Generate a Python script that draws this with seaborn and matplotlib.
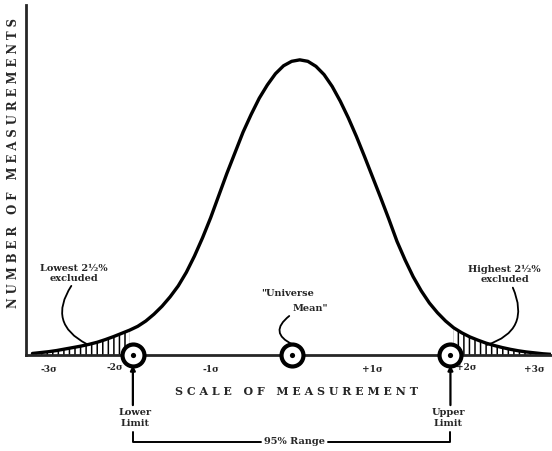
import numpy as np
import pandas as pd
import matplotlib
matplotlib.use("Agg")
import matplotlib.pyplot as plt
import seaborn as sns

# Curve (x in sigma units, height relative to the peak)
x_sigma = [-3.2, -3.1, -3.0, -2.9, -2.8, -2.7, -2.6, -2.5, -2.4, -2.3, -2.2, -2.1,
           -2.0, -1.9, -1.8, -1.7, -1.6, -1.5, -1.4, -1.3, -1.2, -1.1, -1.0, -0.9,
           -0.8, -0.7, -0.6, -0.5, -0.4, -0.3, -0.2, -0.1, 0.0, 0.1, 0.2, 0.3,
           0.4, 0.5, 0.6, 0.7, 0.8, 0.9, 1.0, 1.1, 1.2, 1.3, 1.4, 1.5,
           1.6, 1.7, 1.8, 1.9, 2.0, 2.1, 2.2, 2.3, 2.4, 2.5, 2.6, 2.7,
           2.8, 2.9, 3.0, 3.1, 3.2]
height = [0.005, 0.008, 0.011, 0.015, 0.020, 0.025, 0.030, 0.036, 0.043, 0.052, 0.062, 0.073,
          0.084, 0.097, 0.115, 0.138, 0.165, 0.197, 0.234, 0.280, 0.335, 0.397, 0.465, 0.540,
          0.615, 0.685, 0.755, 0.815, 0.870, 0.915, 0.953, 0.980, 0.995, 1.000, 0.995, 0.978,
          0.950, 0.910, 0.860, 0.803, 0.740, 0.672, 0.602, 0.532, 0.460, 0.385, 0.322, 0.265,
          0.217, 0.176, 0.143, 0.115, 0.092, 0.075, 0.061, 0.050, 0.040, 0.032, 0.025, 0.019,
          0.014, 0.010, 0.007, 0.004, 0.002]

# Marked points on the scale
limit_pos = [-1.96, 0.0, 1.96]
tick_pos = [-3, -1, 1, 3]
tick_labels = ['-3σ', '-1σ', '+1σ', '+3σ']

df = pd.DataFrame({'x': x_sigma, 'h': height})

sns.set_style("white")
plt.rcParams['font.family'] = ['DejaVu Serif']
plt.rcParams['hatch.linewidth'] = 1.1

fig = plt.figure(figsize=(5.52, 4.51), dpi=100)
ax = fig.add_axes([0.047, 0.213, 0.951, 0.776])

sns.lineplot(data=df, x='x', y='h', color='black', linewidth=2.4, ax=ax)

# hatched tails
left = df[df.x <= -2.0]
right = df[df.x >= 2.0]
ax.fill_between(left.x, left.h, 0, facecolor='white', edgecolor='black', hatch='|||', linewidth=0)
ax.fill_between(right.x, right.h, 0, facecolor='white', edgecolor='black', hatch='|||', linewidth=0)

ax.set_xlim(-3.28, 3.2)
ax.set_ylim(0, 1.186)
sns.despine(ax=ax)
for s in ['left', 'bottom']:
    ax.spines[s].set_linewidth(2)
ax.set_yticks([])
ax.set_xticks(tick_pos)
ax.set_xticklabels(tick_labels, fontsize=6.5, fontweight='bold')
ax.tick_params(axis='x', direction='out', length=5, width=2, pad=2)
ax.set_xlabel('')
ax.set_ylabel('')

# bullseye circles
sns.scatterplot(x=limit_pos, y=[0] * 3, s=250, color='white', edgecolor='black',
                linewidth=3, zorder=5, clip_on=False, ax=ax)
sns.scatterplot(x=limit_pos, y=[0] * 3, s=14, color='black', linewidth=0,
                zorder=6, clip_on=False, ax=ax)

bold = dict(fontweight='bold', fontsize=7)
ax.text(-2.18, -0.044, '-2σ', ha='center', va='center', fontsize=6.5, fontweight='bold')
ax.text(2.16, -0.044, '+2σ', ha='center', va='center', fontsize=6.5, fontweight='bold')

ax.text(0.06, -0.125, 'S C A L E   O F   M E A S U R E M E N T', ha='center', va='center',
        fontweight='bold', fontsize=7.9)
fig.text(0.025, 0.639, 'N U M B E R   O F   M E A S U R E M E N T S', rotation=90,
         ha='center', va='center', fontweight='bold', fontsize=8.4)

# limits, arrows and the range bracket
ax.text(-1.93, -0.214, 'Lower\nLimit', ha='center', va='center', linespacing=1.3, **bold)
ax.text(1.93, -0.214, 'Upper\nLimit', ha='center', va='center', linespacing=1.3, **bold)
for xl in [-1.96, 1.96]:
    ax.annotate('', xy=(xl, -0.035), xytext=(xl, -0.17), annotation_clip=False,
                arrowprops=dict(arrowstyle='-|>', color='black', lw=1.6, mutation_scale=7,
                                shrinkA=0, shrinkB=0))
ax.plot([-1.96, -1.96, -0.38], [-0.262, -0.295, -0.295], color='black', lw=1.4, clip_on=False)
ax.plot([0.45, 1.96, 1.96], [-0.295, -0.295, -0.262], color='black', lw=1.4, clip_on=False)
ax.text(0.03, -0.295, '95% Range', ha='center', va='center', **bold)

# tail labels
ax.text(-2.69, 0.275, 'Lowest 2½%\nexcluded', ha='center', va='center', linespacing=1.2, **bold)
ax.annotate('', xy=(-2.53, 0.037), xytext=(-2.72, 0.234),
            arrowprops=dict(arrowstyle='-', color='black', lw=1.3,
                            connectionstyle='arc3,rad=0.55', shrinkA=0, shrinkB=0))
ax.text(2.63, 0.272, 'Highest 2½%\nexcluded', ha='center', va='center', linespacing=1.2, **bold)
ax.annotate('', xy=(2.41, 0.034), xytext=(2.73, 0.228),
            arrowprops=dict(arrowstyle='-', color='black', lw=1.3,
                            connectionstyle='arc3,rad=-0.55', shrinkA=0, shrinkB=0))

ax.text(-0.05, 0.207, '"Universe', ha='center', va='center', **bold)
ax.text(0.235, 0.156, 'Mean"', ha='center', va='center', **bold)
ax.annotate('', xy=(0.01, 0.036), xytext=(-0.03, 0.132),
            arrowprops=dict(arrowstyle='-', color='black', lw=1.3,
                            connectionstyle='arc3,rad=0.8', shrinkA=0, shrinkB=0))

plt.savefig('out.png', dpi=100)
